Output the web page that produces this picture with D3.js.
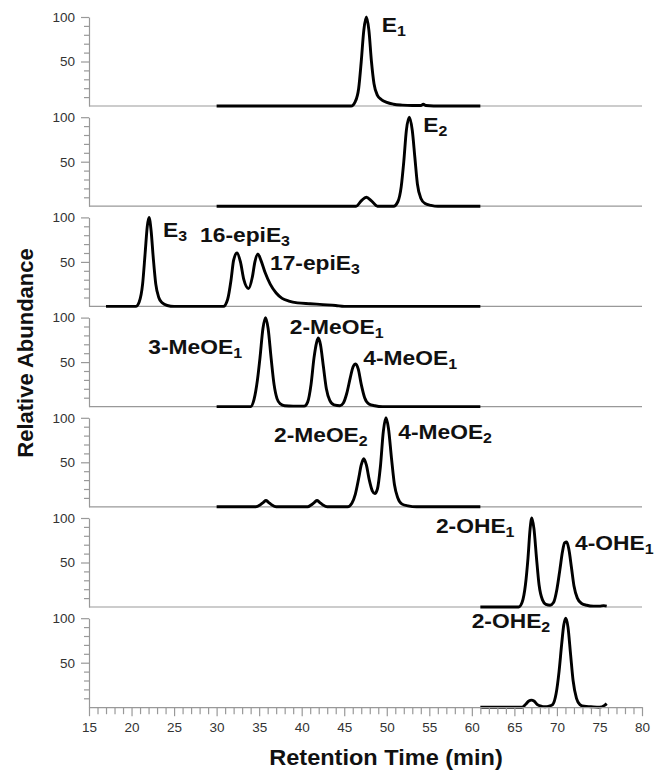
<!DOCTYPE html>
<html>
<head>
<meta charset="utf-8">
<script src="https://cdn.jsdelivr.net/npm/d3@7"></script>
<style>
  body { margin: 0; background: #fff; }
  svg { display: block; }
  .axis path, .axis line, .base { stroke: #999; stroke-width: 1.2; fill: none; }
  .axis text { font-family: "Liberation Sans", Arial, sans-serif; font-size: 13.5px; fill: #333; }
  .trace { fill: none; stroke: #000; stroke-width: 2.9; stroke-linejoin: round; }
  .peak { font-family: "Liberation Sans", Arial, sans-serif; font-weight: bold; font-size: 20px; fill: #111; }
  .title { font-family: "Liberation Sans", Arial, sans-serif; font-weight: bold; font-size: 22px; fill: #111; }
</style>
</head>
<body>
<svg id="chart" width="657" height="773"></svg>
<script>
// retention time (min) / relative abundance (%)
const e1Time  = [30, 45.8, 46.3, 46.7, 47.0, 47.3, 47.6, 47.9, 48.2, 48.5, 48.9, 49.4, 50.0, 50.8, 51.8, 53, 54.0, 54.3, 54.6, 55.5, 61];
const e1Abund = [0, 0, 5, 20, 50, 85, 100, 85, 50, 25, 12, 7, 4, 2, 1, 0.5, 0.5, 2, 0.5, 0, 0];

const e2Time  = [30, 46.4, 47.0, 47.6, 48.2, 48.9, 50.8, 51.3, 51.7, 52.0, 52.3, 52.65, 53.0, 53.3, 53.6, 54.0, 54.5, 55.2, 56, 61];
const e2Abund = [0, 0, 6, 10, 6, 0, 0, 5, 22, 50, 85, 100, 85, 55, 25, 9, 3, 1, 0, 0];

const e3Time  = [17, 20.5, 20.9, 21.3, 21.6, 21.85, 22.05, 22.3, 22.55, 22.85, 23.2, 23.6, 24.2, 25,
                 30.8, 31.3, 31.7, 32.0, 32.4, 32.8, 33.2, 33.75, 34.2, 34.5, 34.85, 35.2, 35.7, 36.3,
                 37.0, 37.7, 38.5, 39.5, 41, 42.5, 44, 45, 61];
const e3Abund = [0, 0, 5, 25, 60, 90, 100, 85, 55, 25, 10, 4, 1, 0,
                 0, 8, 30, 52, 60, 50, 30, 20, 33, 50, 59, 52, 38, 25,
                 15, 9, 6, 4, 3, 2, 1, 0, 0];

const meoe1Time  = [30, 34.0, 34.4, 34.8, 35.1, 35.45, 35.75, 36.05, 36.4, 36.75, 37.1, 37.5, 38.0, 39.0,
                    40.3, 40.7, 41.1, 41.45, 41.75, 41.95, 42.2, 42.55, 42.9, 43.3, 43.8, 44.5,
                    44.9, 45.3, 45.7, 46.05, 46.35, 46.65, 47.0, 47.4, 47.9, 48.6, 49.5, 61];
const meoe1Abund = [0, 0, 8, 30, 55, 88, 100, 88, 55, 25, 9, 3, 1, 0.5,
                    0.5, 5, 25, 55, 72, 77, 70, 45, 20, 7, 2, 1,
                    4, 15, 32, 45, 48, 42, 25, 10, 3, 1, 0, 0];

const meoe2Time  = [30, 34.6, 35.1, 35.5, 35.8, 36.1, 36.5, 37.0, 40.7, 41.1, 41.5, 41.8, 42.1, 42.5, 43.0,
                    45.4, 45.9, 46.3, 46.7, 47.0, 47.3, 47.6, 47.95, 48.3, 48.6, 48.9, 49.25, 49.6, 49.9,
                    50.2, 50.55, 50.9, 51.3, 51.8, 52.5, 53.5, 61];
const meoe2Abund = [0, 0, 2, 5, 7, 5, 2, 0, 0, 2, 5, 7, 5, 2, 0,
                    0, 4, 14, 32, 47, 54, 47, 30, 18, 15, 20, 45, 85, 100,
                    88, 55, 25, 10, 3, 1, 0, 0];

const ohe1Time  = [61, 65.5, 65.9, 66.3, 66.6, 66.85, 67.05, 67.3, 67.6, 67.9, 68.3, 68.7, 69.2, 69.6,
                   70.0, 70.35, 70.65, 70.9, 71.15, 71.4, 71.7, 72.0, 72.4, 72.9, 73.5, 74.3, 75.0, 75.5, 75.85];
const ohe1Abund = [0, 0, 5, 25, 55, 88, 100, 88, 55, 25, 8, 3, 2, 5,
                   20, 42, 62, 72, 73, 65, 45, 24, 10, 4, 2, 1, 1, 1.5, 1];

const ohe2Time  = [61, 65.9, 66.3, 66.7, 67.0, 67.3, 67.7, 68.2, 68.6, 69.0, 69.5, 69.9, 70.25, 70.55,
                   70.8, 71.05, 71.3, 71.6, 71.9, 72.3, 72.7, 73.2, 74, 75, 75.6, 75.85];
const ohe2Abund = [0, 0, 3, 7, 8, 7, 3, 1, 0.5, 1, 3, 15, 40, 70,
                   92, 100, 90, 60, 30, 10, 3, 1, 0.5, 0, 2, 4];

// peak names (main text + subscript) and where they sit, in data units of their panel
const peakLabels = [
  { panel: 0, text: "E",       sub: "1", t: 49.4,  v: 83.5 },
  { panel: 1, text: "E",       sub: "2", t: 54.3,  v: 83.7 },
  { panel: 2, text: "E",       sub: "3", t: 23.7,  v: 78.3 },
  { panel: 2, text: "16-epiE", sub: "3", t: 28.05, v: 72 },
  { panel: 2, text: "17-epiE", sub: "3", t: 36.27, v: 40.9 },
  { panel: 3, text: "3-MeOE",  sub: "1", t: 21.97, v: 59 },
  { panel: 3, text: "2-MeOE",  sub: "1", t: 38.6,  v: 81.6 },
  { panel: 3, text: "4-MeOE",  sub: "1", t: 47.24, v: 46.7 },
  { panel: 4, text: "2-MeOE",  sub: "2", t: 36.74, v: 72.8 },
  { panel: 4, text: "4-MeOE",  sub: "2", t: 51.35, v: 76.2 },
  { panel: 5, text: "2-OHE",   sub: "1", t: 55.78, v: 83.1 },
  { panel: 5, text: "4-OHE",   sub: "1", t: 72.12, v: 64 },
  { panel: 6, text: "2-OHE",   sub: "2", t: 59.98, v: 89 },
];

const xTicks = [15, 20, 25, 30, 35, 40, 45, 50, 55, 60, 65, 70, 75, 80];
const yTicks = [50, 100];
const xLabel = "Retention Time (min)";
const yLabel = "Relative Abundance";

const traces = [
  [e1Time, e1Abund], [e2Time, e2Abund], [e3Time, e3Abund],
  [meoe1Time, meoe1Abund], [meoe2Time, meoe2Abund],
  [ohe1Time, ohe1Abund], [ohe2Time, ohe2Abund],
].map(([t, a]) => t.map((d, i) => ({ t: d, v: a[i] })));

const svg = d3.select("#chart");
const plotLeft = 89, plotRight = 642;
const firstBase = 106, pitch = 100.2, panelH = 89;

const x = d3.scaleLinear().domain([15, 80]).range([plotLeft, plotRight]);
const yScales = traces.map((_, i) => {
  const base = firstBase + i * pitch;
  return d3.scaleLinear().domain([0, 100]).range([base, base - panelH]);
});

const minorY = [10, 20, 30, 40, 60, 70, 80, 90];

const line = (y) => d3.line()
  .x(d => x(d.t))
  .y(d => y(d.v))
  .curve(d3.curveMonotoneX);

traces.forEach((pts, i) => {
  const y = yScales[i];
  const g = svg.append("g");

  // every panel but the last gets a plain grey baseline; the last one has the time axis
  if (i < traces.length - 1) {
    g.append("line").attr("class", "base")
      .attr("x1", x(15)).attr("x2", x(80))
      .attr("y1", y(0)).attr("y2", y(0));
  }

  g.append("g").attr("class", "axis")
    .attr("transform", `translate(${x(15)},0)`)
    .call(d3.axisLeft(y).tickValues(yTicks).tickSize(8).tickPadding(6).tickSizeOuter(0));

  g.append("g").attr("class", "axis")
    .attr("transform", `translate(${x(15)},0)`)
    .call(d3.axisLeft(y).tickValues(minorY).tickSize(5).tickFormat(""))
    .select(".domain").remove();

  g.append("path").attr("class", "trace").attr("d", line(y)(pts));
});

// bottom time axis on the last panel
const yLast = yScales[yScales.length - 1];
svg.append("g").attr("class", "axis")
  .attr("transform", `translate(0,${yLast(0)})`)
  .call(d3.axisBottom(x).tickValues(d3.range(15, 81).filter(v => v % 5 !== 0)).tickSize(7).tickFormat(""))
  .select(".domain").remove();
svg.append("g").attr("class", "axis")
  .attr("transform", `translate(0,${yLast(0)})`)
  .call(d3.axisBottom(x).tickValues(xTicks).tickSize(9).tickPadding(6).tickSizeOuter(0));

// peak names
peakLabels.forEach(d => {
  const y = yScales[d.panel];
  const txt = svg.append("text").attr("class", "peak")
    .attr("transform", `translate(${x(d.t)},${y(d.v)}) scale(1.14,1)`);
  txt.append("tspan").text(d.text);
  txt.append("tspan").attr("font-size", 14).attr("dy", 4).text(d.sub);
});

svg.append("text").attr("class", "title")
  .attr("text-anchor", "middle")
  .attr("transform", "translate(386,765) scale(1.07,1)")
  .text(xLabel);

svg.append("text").attr("class", "title")
  .attr("text-anchor", "middle")
  .attr("transform", "translate(33,353) rotate(-90)")
  .text(yLabel);
</script>
</body>
</html>
